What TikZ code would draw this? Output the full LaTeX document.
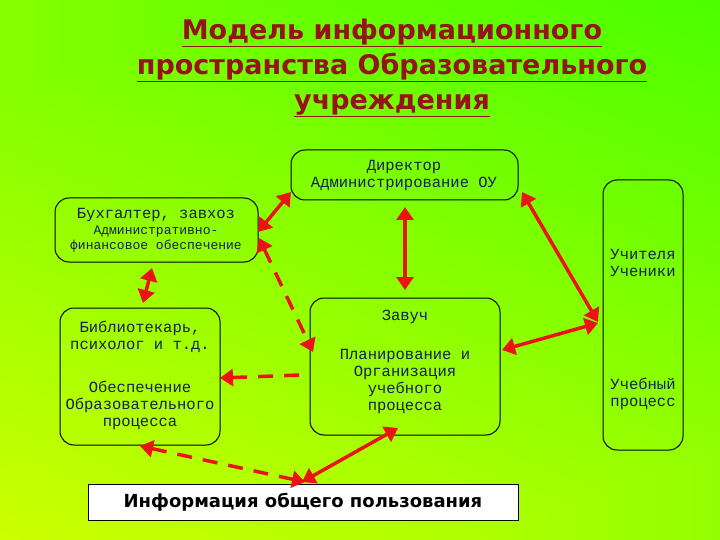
\documentclass[tikz,border=0pt]{standalone}
\usepackage{fontspec}
\setmainfont{DejaVu Sans}
\newfontfamily\monof{Liberation Mono}
\usetikzlibrary{arrows.meta}
\definecolor{ttl}{RGB}{150,20,25}
\definecolor{txt}{RGB}{20,30,90}
\definecolor{arr}{RGB}{235,20,20}
\tikzset{
 box/.style={draw=black,rounded corners=14pt,line width=1pt},
 con/.style={draw=arr,line width=3.5pt,{Triangle[length=13pt,width=17pt]}-{Triangle[length=13pt,width=17pt]}},
 dcon/.style={con,dash pattern=on 15pt off 11pt},
 lbl/.style={text=txt,font=\monof\fontsize{15.5}{17}\selectfont,align=center}
}
\begin{document}
\begin{tikzpicture}[x=1pt,y=-1pt]
\shade[top color=green!80!lime,bottom color=yellow!70!lime,shading angle=20] (0,0) rectangle (720,540);
\shade[left color=yellow!60!lime,right color=green!70!lime,opacity=0.5] (0,0) rectangle (720,540);
\useasboundingbox (0,0) rectangle (720,540);
\node[text=ttl,font=\bfseries\fontsize{27}{35}\selectfont,align=center] (title) at (392,68)
 {\underline{Модель информационного}\\\underline{пространства Образовательного}\\\underline{учреждения}};
\draw[box] (55,198) rectangle (258,262);
\node[lbl] (bukh) at (156,230) {Бухгалтер, завхоз\\[-1pt]{\fontsize{13}{15}\selectfont Административно-}\\[-2pt]{\fontsize{13}{15}\selectfont финансовое обеспечение}};
\draw[box] (291,150) rectangle (518,200);
\node[lbl] (dir) at (404,176) {Директор\\Администрирование ОУ};
\draw[box] (603,180) rectangle (683,450);
\node[lbl] (teach) at (643,263) {Учителя\\Ученики};
\node[lbl] (proc) at (643,394) {Учебный\\процесс};
\draw[box] (60,308) rectangle (220,445);
\node[lbl] (lib) at (140,375) {Библиотекарь,\\психолог и т.д.\\[26pt]Обеспечение\\Образовательного\\процесса};
\draw[box] (310,298) rectangle (500,435);
\node[lbl] (zav) at (405,362) {Завуч\\[22pt]Планирование и\\Организация\\учебного\\процесса};
\node[draw=black,line width=1pt,fill=white,minimum width=430pt,minimum height=36pt,font=\bfseries\fontsize{18}{22}\selectfont,text=black] (info) at (303,502) {Информация общего пользования};
\coordinate (a1) at (522,192); \coordinate (a2) at (598,322);
\draw[con] (a1) -- (a2);
\coordinate (b1) at (405,207); \coordinate (b2) at (405,290);
\draw[con] (b1) -- (b2);
\coordinate (c1) at (291,192); \coordinate (c2) at (258,232);
\draw[con] (c1) -- (c2);
\coordinate (d1) at (152,268); \coordinate (d2) at (143,303);
\draw[con] (d1) -- (d2);
\coordinate (e1) at (502,350); \coordinate (e2) at (598,323);
\draw[con] (e1) -- (e2);
\coordinate (f1) at (302,482); \coordinate (f2) at (398,428);
\draw[con] (f1) -- (f2);
\coordinate (g1) at (259,238); \coordinate (g2) at (313,352);
\draw[dcon] (g1) -- (g2);
\coordinate (h1) at (220,378); \coordinate (h2) at (300,375);
\draw[dcon,{Triangle[length=13pt,width=17pt]}-] (h1) -- (h2);
\coordinate (i1) at (140,446); \coordinate (i2) at (305,482);
\draw[dcon] (i1) -- (i2);
\end{tikzpicture}
\end{document}
